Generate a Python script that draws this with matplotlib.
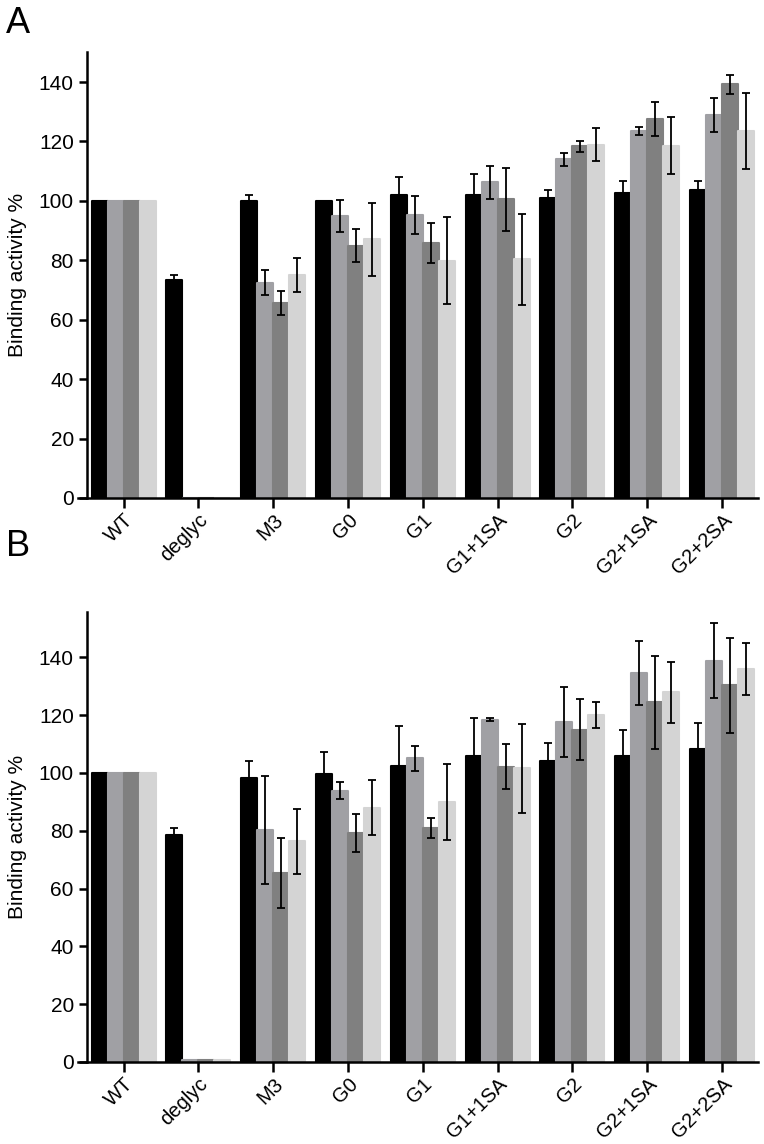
import matplotlib

matplotlib.use("Agg")
import matplotlib.pyplot as plt
import numpy as np

plt.rcParams["font.family"] = ["Liberation Sans", "DejaVu Sans"]

groups = ["WT", "deglyc", "M3", "G0", "G1", "G1+1SA", "G2", "G2+1SA", "G2+2SA"]
colors = ["#000000", "#a0a0a4", "#808080", "#d4d4d4"]

# panel A
a_vals = [
    [100, 73.4, 99.8, 100, 102, 102, 101, 102.6, 103.6],
    [100, 0, 72.4, 94.8, 95.4, 106.2, 114, 123.5, 128.8],
    [100, 0, 65.6, 84.9, 85.8, 100.6, 118.3, 127.6, 139.3],
    [100, 0, 75, 87, 79.9, 80.3, 118.9, 118.5, 123.5],
]
a_errs = [
    [0, 1.8, 2.2, 0, 6, 7, 2.6, 4.2, 3.1],
    [0, 0, 4.2, 5.4, 6.4, 5.5, 2.2, 1.3, 5.7],
    [0, 0, 4, 5.5, 6.6, 10.6, 2, 5.8, 3.2],
    [0, 0, 5.7, 12.3, 14.6, 15.4, 5.5, 9.6, 12.9],
]

# panel B
b_vals = [
    [100, 78.4, 98.3, 99.6, 102.3, 106, 104.3, 105.9, 108.4],
    [100, 0.8, 80.3, 93.9, 105.1, 118.4, 117.5, 134.6, 138.9],
    [100, 0.8, 65.4, 79.2, 80.9, 102.2, 115, 124.5, 130.3],
    [100, 0.6, 76.3, 88, 90, 101.7, 120.1, 127.9, 136.1],
]
b_errs = [
    [0, 2.4, 5.9, 7.7, 13.8, 13, 6.1, 9.1, 8.9],
    [0, 0, 18.7, 3, 4.3, 0.5, 12.1, 11.2, 12.9],
    [0, 0, 12.1, 6.6, 3.5, 7.8, 10.5, 16.1, 16.3],
    [0, 0, 11.3, 9.5, 13.2, 15.4, 4.5, 10.5, 9],
]


def draw_panel(ax, vals, errs, ymax):
    x = np.arange(len(groups))
    w = 0.214
    for k in range(4):
        pos = x + (k - 1.5) * w
        ax.bar(
            pos, vals[k], width=w, color=colors[k], edgecolor=colors[k],
            linewidth=1.5, joinstyle="round",
        )
        err = np.array(errs[k])
        mask = err > 0
        ax.errorbar(
            pos[mask], np.array(vals[k])[mask], yerr=err[mask], fmt="none",
            ecolor="black", elinewidth=1.3, capsize=2.8, capthick=1.3,
        )
    ax.set_xlim(-0.49, len(groups) - 1 + 0.48)
    ax.set_ylim(0, ymax)
    ax.set_yticks(np.arange(0, 141, 20))
    ax.set_xticks(x)
    ax.set_xticklabels(groups, rotation=45, ha="right", rotation_mode="anchor")
    ax.spines["top"].set_visible(False)
    ax.spines["right"].set_visible(False)
    ax.spines["left"].set_linewidth(1.8)
    ax.spines["bottom"].set_linewidth(1.8)
    ax.spines["bottom"].set_bounds(-0.61, len(groups) - 1 + 0.48)
    ax.tick_params(axis="both", width=1.8, length=6, labelsize=15)
    ax.tick_params(axis="x", length=7, pad=2, labelsize=14.5)
    ax.set_ylabel("Binding activity %", fontsize=15)
    ax.yaxis.set_label_coords(-0.089, 0.5)


fig = plt.figure(figsize=(7.64, 11.44), dpi=100)
ax1 = fig.add_axes([0.1139, 0.5647, 0.878, 0.3901])
ax2 = fig.add_axes([0.1139, 0.0717, 0.878, 0.3936])

draw_panel(ax1, a_vals, a_errs, 150.2)
draw_panel(ax2, b_vals, b_errs, 155.8)

fig.text(0.008, 0.995, "A", fontsize=26, va="top")
fig.text(0.008, 0.538, "B", fontsize=26, va="top")

fig.savefig("out.png", dpi=100)
